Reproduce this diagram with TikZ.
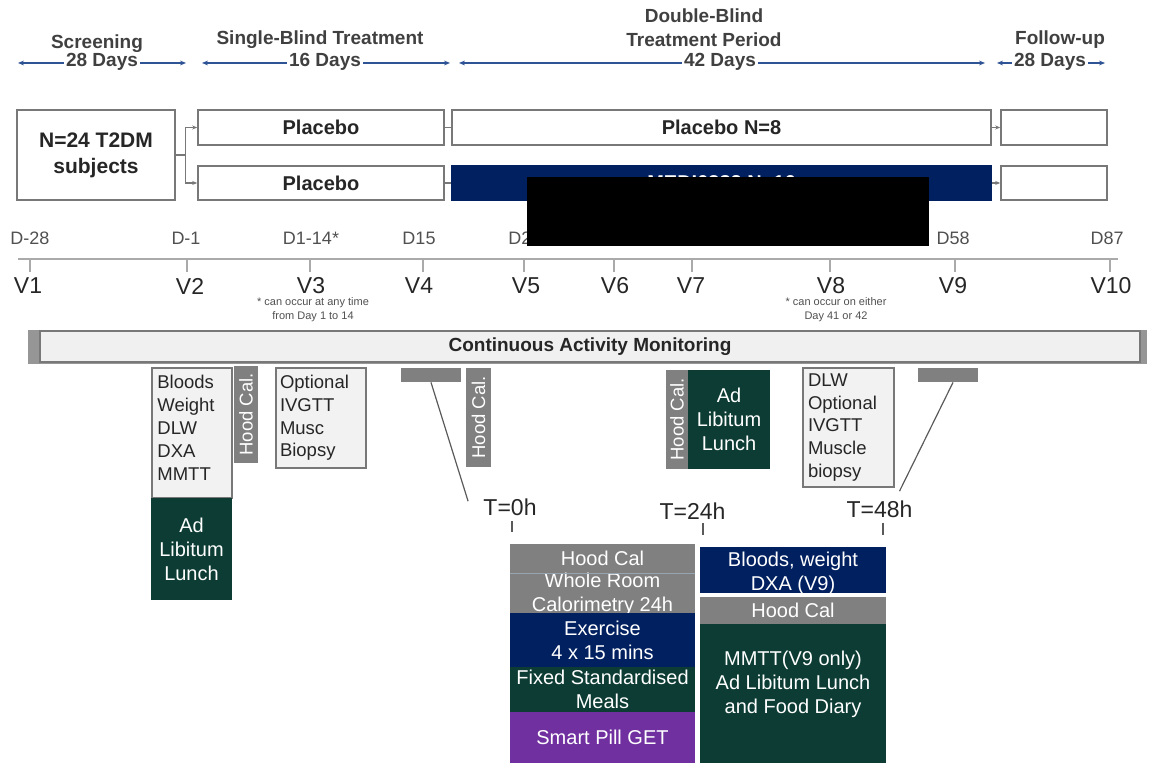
\documentclass[tikz,border=0pt]{standalone}
\usepackage{fontspec}
\setmainfont{Liberation Sans}
\usetikzlibrary{arrows.meta}

\begin{document}
\begin{tikzpicture}[x=0.5pt,y=-0.5pt,
        headlab/.style={font=\fontsize{9.5}{11}\selectfont\bfseries, text=headtext, inner sep=1pt},
        daysfill/.style={fill=white, inner ysep=0pt, inner xsep=1pt},
        span/.style={draw=spanblue, line width=0.6pt, {Stealth[length=3pt,width=2.4pt]}-{Stealth[length=3pt,width=2.4pt]}},
        arm/.style={draw=boxline, line width=0.8pt, fill=white, inner sep=1pt, font=\fontsize{10}{12}\selectfont\bfseries, text=bodytext},
        link/.style={draw=boxline, line width=0.6pt},
        arrowed/.style={-{Stealth[length=2.5pt,width=2pt]}},
        daylab/.style={font=\fontsize{9}{11}\selectfont, text=daytext, inner sep=0pt},
        visitlab/.style={font=\fontsize{11.5}{13}\selectfont, text=bodytext, inner sep=0pt},
        note/.style={font=\fontsize{5.5}{7}\selectfont, text=daytext, align=center, inner sep=0pt},
        vtick/.style={draw=tickgray, line width=0.7pt},
        listbox/.style={draw=boxline, line width=0.8pt, fill=listfill, inner sep=1pt, align=left, font=\fontsize{9.25}{11.4}\selectfont, text=bodytext},
        listtext/.style={inner sep=0pt, align=left, font=\fontsize{9.25}{11.4}\selectfont, text=bodytext},
        block/.style={inner sep=0pt, align=center, text=white, font=\fontsize{10}{12}\selectfont},
        hood/.style={block, fill=hoodgray, rotate=90, font=\fontsize{9.25}{11}\selectfont},
        hourlab/.style={font=\fontsize{11.5}{13}\selectfont, text=bodytext, inner sep=0pt},
        leader/.style={draw=leadgray, line width=0.6pt}]
    % Define colors
    \definecolor{headtext}{RGB}{64,64,64}
    \definecolor{bodytext}{RGB}{38,38,38}
    \definecolor{daytext}{RGB}{80,80,80}
    \definecolor{spanblue}{RGB}{47,84,150}
    \definecolor{boxline}{RGB}{120,120,120}
    \definecolor{tickgray}{RGB}{170,170,170}
    \definecolor{leadgray}{RGB}{90,90,90}
    \definecolor{listfill}{RGB}{242,242,242}
    \definecolor{hoodgray}{RGB}{128,128,128}
    \definecolor{navy}{RGB}{0,32,96}
    \definecolor{lunchgreen}{RGB}{12,60,52}
    \definecolor{pillpurple}{RGB}{112,48,160}
    \definecolor{camfill}{RGB}{240,240,240}
    \definecolor{camshade}{RGB}{150,150,150}
    \definecolor{seprule}{RGB}{150,165,175}

    \useasboundingbox (0,0) rectangle (1149,763);

    % Study periods
    \coordinate (scrL) at (18,63);
    \coordinate (scrR) at (186,63);
    \draw[span] (scrL) -- (scrR);
    \node[headlab, daysfill] (scrdays) at (102,62) {28 Days};
    \node[headlab] (scrname) at (97,44) {Screening};

    \coordinate (sbL) at (202,63);
    \coordinate (sbR) at (450,63);
    \draw[span] (sbL) -- (sbR);
    \node[headlab, daysfill] (sbdays) at (325,62) {16 Days};
    \node[headlab] (sbname) at (320,40) {Single-Blind Treatment};

    \coordinate (dbL) at (459,63);
    \coordinate (dbR) at (985,63);
    \draw[span] (dbL) -- (dbR);
    \node[headlab, daysfill] (dbdays) at (720,62) {42 Days};
    \node[headlab] (dbname) at (704,16) {Double-Blind};
    \node[headlab] (dbperiod) at (704,40) {Treatment Period};

    \coordinate (fuL) at (997,63);
    \coordinate (fuR) at (1105,63);
    \draw[span] (fuL) -- (fuR);
    \node[headlab, daysfill] (fudays) at (1050,62) {28 Days};
    \node[headlab] (funame) at (1060,40) {Follow-up};

    % Treatment arms
    \node[arm, minimum width=79pt, minimum height=45pt, align=center, font=\fontsize{10.5}{13}\selectfont\bfseries] (subj) at (96,155) {N=24 T2DM\\subjects};
    \node[arm, minimum width=123pt, minimum height=17.5pt] (plaA) at (321,127.5) {Placebo};
    \node[arm, minimum width=123pt, minimum height=17pt] (plaB) at (321,183) {Placebo};
    \node[arm, minimum width=269.5pt, minimum height=17.5pt] (plcN) at (721.5,127.5) {Placebo N=8};
    \node[arm, draw=navy, fill=navy, text=white, minimum width=269.5pt, minimum height=17pt] (medi) at (721.5,183) {MEDI0382 N=16};
    \node[arm, minimum width=53pt, minimum height=17.5pt] (fuA) at (1054,127.5) {};
    \node[arm, minimum width=53pt, minimum height=17pt] (fuB) at (1054,183) {};

    \draw[link] (subj.east) -- ++(10,0) coordinate (split);
    \draw[link, arrowed] (split) |- (plaA.west);
    \draw[link, arrowed] (split) |- (plaB.west);
    \draw[link] (plaA.east) -- (plcN.west);
    \draw[link] (plaB.east) -- (medi.west);
    \draw[link, arrowed] (plcN.east) -- (fuA.west);
    \draw[link, arrowed] (medi.east) -- (fuB.west);

    % Days and visits
    \node[daylab] (dA) at (30,238) {D-28};
    \node[daylab] (dB) at (186,238) {D-1};
    \node[daylab] (dC) at (311,238) {D1-14*};
    \node[daylab] (dD) at (419,238) {D15};
    \node[daylab, anchor=west] (dE) at (508,238) {D2};
    \node[daylab] (dF) at (953,238) {D58};
    \node[daylab] (dG) at (1107,238) {D87};

    \coordinate (axisL) at (18,259);
    \coordinate (axisR) at (1118,259);
    \draw[vtick] (axisL) -- (axisR);
    \draw[vtick] (30,260) -- (30,272);   \node[visitlab] (vA) at (28,286) {V1};
    \draw[vtick] (187,260) -- (187,272); \node[visitlab] (vB) at (190,286) {V2};
    \draw[vtick] (310,260) -- (310,272); \node[visitlab] (vC) at (311,286) {V3};
    \draw[vtick] (423,260) -- (423,272); \node[visitlab] (vD) at (419,286) {V4};
    \draw[vtick] (524,260) -- (524,272); \node[visitlab] (vE) at (526,286) {V5};
    \draw[vtick] (614,260) -- (614,272); \node[visitlab] (vF) at (615,286) {V6};
    \draw[vtick] (692,260) -- (692,272); \node[visitlab] (vG) at (691,286) {V7};
    \draw[vtick] (830,260) -- (830,272); \node[visitlab] (vH) at (831,286) {V8};
    \draw[vtick] (955,260) -- (955,272); \node[visitlab] (vI) at (953,286) {V9};
    \draw[vtick] (1110,260) -- (1110,272); \node[visitlab] (vJ) at (1111,286) {V10};

    \node[note] (noteA) at (313,310) {* can occur at any time\\from Day 1 to 14};
    \node[note] (noteB) at (836,310) {* can occur on either\\Day 41 or 42};

    % Activity monitoring
    \fill[camshade] (28,330) rectangle (1147,364);
    \node[draw=boxline, line width=0.6pt, fill=camfill, minimum width=550pt, minimum height=15.5pt, inner sep=0pt, font=\fontsize{9.5}{11}\selectfont\bfseries, text=bodytext] (cam) at (590,346.5) {Continuous Activity Monitoring};

    % Visit assessments
    \node[listbox, minimum width=40pt, minimum height=65pt] (vtwo) at (192,433) {};
    \node[listtext, anchor=north west] (vtwotext) at (157,375) {Bloods\\Weight\\DLW\\DXA\\MMTT};
    \node[block, fill=lunchgreen, minimum width=40.5pt, minimum height=51pt] (lunchA) at (191.5,549) {Ad\\Libitum\\Lunch};
    \node[hood, minimum width=48.5pt, minimum height=12pt] (hoodA) at (246,414.5) {Hood Cal.};
    \node[listbox, text width=41pt, minimum width=45pt, minimum height=50pt] (vthree) at (321,418) {Optional\\IVGTT\\Musc\\Biopsy};
    \node[fill=hoodgray, minimum width=30pt, minimum height=7pt, inner sep=0pt] (barA) at (431,375) {};
    \node[hood, minimum width=49.5pt, minimum height=12.5pt] (hoodB) at (478.5,417.5) {Hood Cal.};
    \node[hood, minimum width=49.5pt, minimum height=11pt] (hoodC) at (677,419.5) {Hood Cal.};
    \node[block, fill=lunchgreen, minimum width=41pt, minimum height=49.5pt] (lunchB) at (729,419.5) {Ad\\Libitum\\Lunch};
    \node[listbox, text width=40.5pt, minimum width=45.5pt, minimum height=59.5pt] (veight) at (848.5,427.5) {DLW\\Optional\\IVGTT\\Muscle\\biopsy};
    \node[fill=hoodgray, minimum width=30pt, minimum height=7pt, inner sep=0pt] (barB) at (948,375) {};

    % Hours of the stay
    \node[hourlab] (tzero) at (510,507) {T=0h};
    \node[hourlab] (ttwentyfour) at (692.5,511) {T=24h};
    \node[hourlab] (tfortyeight) at (879.5,509) {T=48h};
    \draw[leader] (barA.south) -- ([shift={(-7.5pt,-1.5pt)}]tzero.north west);
    \draw[leader] ([xshift=2.5pt]barB.south) -- ([shift={(10pt,4.5pt)}]tfortyeight.north);
    \draw[leader] (512,521) -- (512,532);
    \draw[leader] (703,523) -- (703,535);
    \draw[leader] (883,523) -- (883,535);

    \node[block, fill=hoodgray, minimum width=92.5pt, minimum height=14.5pt] (hoodD) at (602.5,558.5) {Hood Cal};
    \node[block, fill=hoodgray, minimum width=92.5pt, minimum height=21pt] (room) at (602.5,594) {Whole Room\\Calorimetry 24h};
    \draw[seprule, line width=0.6pt] (hoodD.south west) -- (hoodD.south east);
    \node[block, fill=navy, minimum width=92.5pt, minimum height=27pt] (exer) at (602.5,640) {Exercise\\4 x 15 mins};
    \node[block, fill=lunchgreen, minimum width=92.5pt, minimum height=22.5pt] (meals) at (602.5,689.5) {Fixed Standardised\\Meals};
    \node[block, fill=pillpurple, minimum width=92.5pt, minimum height=25.5pt] (pill) at (602.5,737.5) {Smart Pill GET};

    \node[block, fill=navy, minimum width=93pt, minimum height=23pt] (bloods) at (793,570) {};
    \node[block] (bloodstext) at (793,573) {Bloods, weight\\DXA (V9)};
    \node[block, fill=hoodgray, minimum width=93pt, minimum height=13.5pt] (hoodE) at (793,610.5) {Hood Cal};
    \node[block, fill=lunchgreen, minimum width=93pt, minimum height=69.5pt] (mmtt) at (793,693.5) {};
    \node[block] (mmtttext) at (793,684) {MMTT(V9 only)\\Ad Libitum Lunch\\and Food Diary};

    % Redacted area
    \node[fill=black, inner sep=0pt, minimum width=201pt, minimum height=34.5pt] (redact) at (728,211.5) {};
\end{tikzpicture}
\end{document}
